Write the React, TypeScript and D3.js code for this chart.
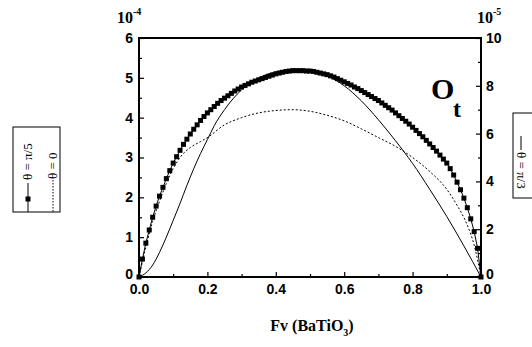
import * as React from 'react';
import * as d3 from 'd3';

// x positions (Fv)
const fvFine = d3.range(0, 101).map((i) => i / 100);
// theta = pi/5, left axis (x1e-4), one marker every 0.01
const piOver5 = [
  0, 0.45, 0.85, 1.18, 1.5, 1.78, 2.03, 2.25, 2.47, 2.67, 2.86, 3.02, 3.18, 3.33, 3.46, 3.59, 3.71, 3.82, 3.93, 4.03,
  4.12, 4.2, 4.28, 4.36, 4.43, 4.49, 4.55, 4.61, 4.67, 4.72, 4.77, 4.81, 4.85, 4.89, 4.92, 4.95, 4.98, 5.01, 5.04, 5.07,
  5.1, 5.12, 5.14, 5.16, 5.17, 5.18, 5.18, 5.18, 5.18, 5.17, 5.17, 5.16, 5.14, 5.12, 5.1, 5.08, 5.05, 5.02, 4.98, 4.94,
  4.9, 4.86, 4.82, 4.77, 4.73, 4.68, 4.63, 4.58, 4.53, 4.48, 4.43, 4.37, 4.31, 4.25, 4.19, 4.12, 4.05, 3.98, 3.91, 3.84,
  3.76, 3.68, 3.6, 3.52, 3.43, 3.34, 3.25, 3.16, 3.06, 2.96, 2.86, 2.72, 2.56, 2.38, 2.19, 1.98, 1.74, 1.46, 1.14, 0.72,
  0,
];

// theta = 0, left axis (x1e-4), dotted
const fvZero = [0, 0.02, 0.04, 0.06, 0.08, 0.1, 0.12, 0.15, 0.18, 0.2, 0.25, 0.3, 0.35, 0.4, 0.45, 0.5, 0.55, 0.6, 0.65, 0.7, 0.75, 0.8, 0.85, 0.9, 0.93, 0.96, 0.98, 1.0];
const thetaZero = [0, 0.75, 1.4, 1.9, 2.35, 2.72, 3.0, 3.25, 3.4, 3.5, 3.82, 4.0, 4.12, 4.18, 4.2, 4.16, 4.06, 3.92, 3.72, 3.5, 3.28, 3.0, 2.65, 2.2, 1.8, 1.3, 0.8, 0];

// theta = pi/3, right axis (x1e-5), solid
const fvPi3 = [0, 0.02, 0.04, 0.06, 0.08, 0.1, 0.12, 0.14, 0.16, 0.18, 0.2, 0.22, 0.25, 0.3, 0.35, 0.4, 0.45, 0.5, 0.55, 0.6, 0.65, 0.7, 0.75, 0.8, 0.85, 0.9, 0.95, 1.0];
const piOver3 = [0, 0.17, 0.5, 1.03, 1.67, 2.37, 3.08, 3.83, 4.53, 5.17, 5.75, 6.33, 7.0, 7.83, 8.33, 8.58, 8.67, 8.63, 8.42, 8.0, 7.37, 6.58, 5.7, 4.75, 3.67, 2.53, 1.3, 0];

const xTicks = [0, 0.2, 0.4, 0.6, 0.8, 1.0];
const leftTicks = [0, 1, 2, 3, 4, 5, 6];
const rightTicks = [0, 2, 4, 6, 8, 10];

const App = () => {
  const ref = React.useRef<SVGSVGElement | null>(null);

  React.useEffect(() => {
    if (!ref.current) return;
    const svg = d3.select(ref.current);
    svg.selectAll('*').remove();

    const left = 139;
    const right = 481;
    const top = 38;
    const bottom = 277;

    const x = d3.scaleLinear().domain([0, 1]).range([left, right]);
    const yL = d3.scaleLinear().domain([0, 6]).range([bottom, top]);
    const yR = d3.scaleLinear().domain([0, 10]).range([bottom, top]);

    const numFont = '"Liberation Sans", Arial, sans-serif';
    const serif = '"Liberation Serif", "Times New Roman", serif';

    // minor ticks first
    svg.append('g').attr('transform', `translate(0,${bottom})`)
      .call(d3.axisBottom(x).tickValues(d3.range(0.1, 1, 0.2)).tickSize(-3).tickFormat(() => ''));
    svg.append('g').attr('transform', `translate(${left},0)`)
      .call(d3.axisLeft(yL).tickValues(d3.range(0.5, 6, 1)).tickSize(-3).tickFormat(() => ''));
    svg.append('g').attr('transform', `translate(${right},0)`)
      .call(d3.axisRight(yR).tickValues(d3.range(1, 10, 2)).tickSize(-3).tickFormat(() => ''));

    const xAxis = svg.append('g').attr('transform', `translate(0,${bottom})`)
      .call(d3.axisBottom(x).tickValues(xTicks).tickSize(-5).tickPadding(7).tickFormat(d3.format('.1f')));
    const lAxis = svg.append('g').attr('transform', `translate(${left},0)`)
      .call(d3.axisLeft(yL).tickValues(leftTicks).tickSize(-5).tickPadding(6).tickFormat(d3.format('d')));
    const rAxis = svg.append('g').attr('transform', `translate(${right},0)`)
      .call(d3.axisRight(yR).tickValues(rightTicks).tickSize(-5).tickPadding(5).tickFormat(d3.format('d')));

    [xAxis, lAxis, rAxis].forEach((a) => {
      a.selectAll('.tick text').style('font-family', numFont).style('font-weight', 'bold').style('font-size', '14px').attr('fill', '#000');
    });
    // lift the zero labels a touch so they clear the x labels
    lAxis.selectAll('.tick text').filter((d) => d === 0).attr('dy', '0.1em');
    rAxis.selectAll('.tick text').filter((d) => d === 0).attr('dy', '0.1em');
    svg.selectAll('.tick line').attr('stroke', '#000').attr('stroke-width', 1.2);
    svg.selectAll('.domain').remove();

    // frame
    svg.append('rect').attr('x', left).attr('y', top).attr('width', right - left).attr('height', bottom - top)
      .attr('fill', 'none').attr('stroke', '#000').attr('stroke-width', 2);

    // exponent labels
    const exp = (tx, label) => {
      const t = svg.append('text').attr('x', tx).attr('y', 23).style('font-family', serif).style('font-weight', 'bold').style('font-size', '16px');
      t.append('tspan').text('10');
      t.append('tspan').attr('dy', -8).style('font-size', '10px').text(label);
    };
    exp(117, '-4');
    exp(477, '-5');

    // curves
    const lineL = d3.line<number>().x((d, i) => x(fvFine[i])).y((d) => yL(d));
    svg.append('path').datum(piOver5).attr('d', lineL).attr('fill', 'none').attr('stroke', '#000').attr('stroke-width', 1);
    svg.append('g').selectAll('rect').data(piOver5).enter().append('rect')
      .attr('x', (d, i) => x(fvFine[i]) - 2.5).attr('y', (d) => yL(d) - 2.5)
      .attr('width', 5).attr('height', 5).attr('fill', '#000');

    const lineZero = d3.line<number>().curve(d3.curveMonotoneX).x((d, i) => x(fvZero[i])).y((d) => yL(d));
    svg.append('path').datum(thetaZero).attr('d', lineZero).attr('fill', 'none').attr('stroke', '#000')
      .attr('stroke-width', 1).attr('stroke-dasharray', '2,2');

    const linePi3 = d3.line<number>().curve(d3.curveMonotoneX).x((d, i) => x(fvPi3[i])).y((d) => yR(d));
    svg.append('path').datum(piOver3).attr('d', linePi3).attr('fill', 'none').attr('stroke', '#000').attr('stroke-width', 1);

    // O_t label
    svg.append('text').attr('x', 431).attr('y', 99).style('font-family', serif).style('font-weight', 'bold').style('font-size', '30px').text('O');
    svg.append('text').attr('x', 453).attr('y', 117).style('font-family', serif).style('font-weight', 'bold').style('font-size', '24px').text('t');

    // x axis title
    const title = svg.append('text').attr('x', (left + right) / 2 + 2).attr('y', 331).attr('text-anchor', 'middle')
      .style('font-family', serif).style('font-weight', 'bold').style('font-size', '16px');
    title.append('tspan').text('Fv (BaTiO');
    title.append('tspan').attr('dy', 5).style('font-size', '10px').text('3');
    title.append('tspan').attr('dy', -5).text(')');

    // left legend (rotated)
    const lg = svg.append('g');
    lg.append('rect').attr('x', 13).attr('y', 127).attr('width', 47).attr('height', 85).attr('fill', '#fff').attr('stroke', '#000').attr('stroke-width', 1);
    lg.append('line').attr('x1', 28).attr('x2', 28).attr('y1', 183).attr('y2', 212).attr('stroke', '#000');
    lg.append('rect').attr('x', 25.5).attr('y', 196.5).attr('width', 5).attr('height', 5).attr('fill', '#000');
    lg.append('text').attr('transform', 'translate(32,180) rotate(-90)').style('font-family', serif).style('font-size', '13px').text('θ = π/5');
    lg.append('line').attr('x1', 53).attr('x2', 53).attr('y1', 180).attr('y2', 212).attr('stroke', '#000').attr('stroke-dasharray', '1.5,1.5');
    lg.append('text').attr('transform', 'translate(57,179) rotate(-90)').style('font-family', serif).style('font-size', '13px').text('θ = 0');

    // right legend (cut at the edge)
    const rg = svg.append('g');
    rg.append('rect').attr('x', 513).attr('y', 113).attr('width', 40).attr('height', 85).attr('fill', '#fff').attr('stroke', '#000').attr('stroke-width', 1);
    rg.append('line').attr('x1', 521).attr('x2', 521).attr('y1', 136).attr('y2', 150).attr('stroke', '#000');
    rg.append('text').attr('transform', 'translate(517,152) rotate(90)').style('font-family', serif).style('font-size', '13px').text('θ = π/3');
  }, []);

  return <svg ref={ref} width={532} height={347} style={{ position: 'absolute', left: 0, top: 0, background: '#fff' }} />;
};

export default App;
